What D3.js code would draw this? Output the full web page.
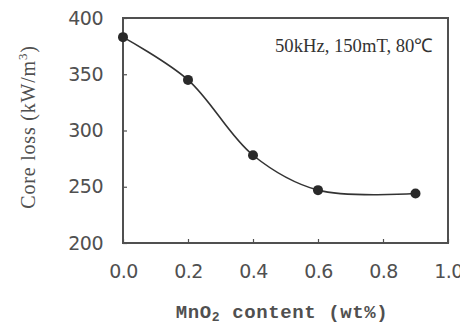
<!DOCTYPE html>
<html>
<head>
<meta charset="utf-8">
<script src="https://cdn.jsdelivr.net/npm/d3@7"></script>
<style>
	html, body { margin: 0; padding: 0; background: #fff; }
	svg { display: block; }
</style>
</head>
<body>
<div id="chart"></div>
<script>
// MnO2 content (wt%) vs core loss (kW/m3)
const mno2 = [0.0, 0.2, 0.4, 0.6, 0.9];
const coreLoss = [383, 345, 278, 247, 244];
const xTicks = [0.0, 0.2, 0.4, 0.6, 0.8, 1.0];
const yTicks = [200, 250, 300, 350, 400];
const note = "50kHz, 150mT, 80\u2103";

const width = 460;
const height = 327;
const margins = { top: 18, right: 12, bottom: 84, left: 123 };

const svg = d3
	.select("#chart")
	.append("svg")
	.attr("width", width)
	.attr("height", height);

const x = d3
	.scaleLinear()
	.domain([0, 1])
	.range([margins.left, width - margins.right]);

const y = d3
	.scaleLinear()
	.domain([200, 400])
	.range([height - margins.bottom, margins.top]);

const ink = "#333";
const grey = "#505050";

// x axis: inward ticks, labels below
const xAxis = svg
	.append("g")
	.attr("transform", `translate(0, ${y(200)})`)
	.call(d3.axisBottom(x).tickValues(xTicks).tickFormat(d3.format(".1f")).tickSizeInner(-4).tickSizeOuter(0).tickPadding(22));
xAxis.select(".domain").remove();
xAxis.selectAll(".tick text")
	.attr("font-family", "DejaVu Sans")
	.attr("font-size", 19)
	.attr("letter-spacing", -0.5)
	.attr("fill", grey);
xAxis.selectAll(".tick line").attr("stroke", grey).attr("stroke-width", 1.2);

// y axis
const yAxis = svg
	.append("g")
	.attr("transform", `translate(${x(0)}, 0)`)
	.call(d3.axisLeft(y).tickValues(yTicks).tickSizeInner(-4).tickSizeOuter(0).tickPadding(20));
yAxis.select(".domain").remove();
yAxis.selectAll(".tick text")
	.attr("font-family", "DejaVu Sans")
	.attr("font-size", 19)
	.attr("letter-spacing", -0.5)
	.attr("fill", grey);
yAxis.selectAll(".tick line").attr("stroke", grey).attr("stroke-width", 1.2);

// frame
svg
	.append("rect")
	.attr("x", x(0))
	.attr("y", y(400))
	.attr("width", x(1) - x(0))
	.attr("height", y(200) - y(400))
	.attr("fill", "none")
	.attr("stroke", grey)
	.attr("stroke-width", 2);

// curve
const points = mno2.map((m, i) => [m, coreLoss[i]]);
svg
	.append("path")
	.datum(points)
	.attr(
		"d",
		d3
			.line()
			.x(([m]) => x(m))
			.y(([_, c]) => y(c))
			.curve(d3.curveCatmullRom.alpha(0.5)),
	)
	.attr("fill", "none")
	.attr("stroke", ink)
	.attr("stroke-width", 1.6);

svg
	.append("g")
	.selectAll("circle")
	.data(points)
	.join("circle")
	.attr("cx", ([m]) => x(m))
	.attr("cy", ([_, c]) => y(c))
	.attr("r", 5)
	.attr("fill", "#2a2a2a");

// condition note
svg
	.append("text")
	.attr("x", 433)
	.attr("y", 52)
	.attr("text-anchor", "end")
	.attr("font-family", "Liberation Serif")
	.attr("font-size", 19)
	.attr("textLength", 158)
	.attr("lengthAdjust", "spacingAndGlyphs")
	.attr("fill", ink)
	.text(note);

// x label
const xLabel = svg
	.append("text")
	.attr("x", 282)
	.attr("y", 318)
	.attr("text-anchor", "middle")
	.attr("font-family", "Liberation Mono")
	.attr("font-weight", "bold")
	.attr("font-size", 19)
	.attr("letter-spacing", 0.6)
	.attr("fill", grey);
xLabel.append("tspan").text("MnO");
xLabel.append("tspan").attr("font-size", 13).attr("dy", 3).text("2");
xLabel.append("tspan").attr("dy", -3).text(" content (wt%)");

// y label
const yLabel = svg
	.append("text")
	.attr("transform", `translate(35, 127) rotate(-90)`)
	.attr("text-anchor", "middle")
	.attr("font-family", "Liberation Serif")
	.attr("font-size", 20)
	.attr("letter-spacing", 0.8)
	.attr("fill", grey);
yLabel.append("tspan").text("Core loss (kW/m");
yLabel.append("tspan").attr("font-size", 13).attr("dy", -8).text("3");
yLabel.append("tspan").attr("dy", 8).text(")");
</script>
</body>
</html>
